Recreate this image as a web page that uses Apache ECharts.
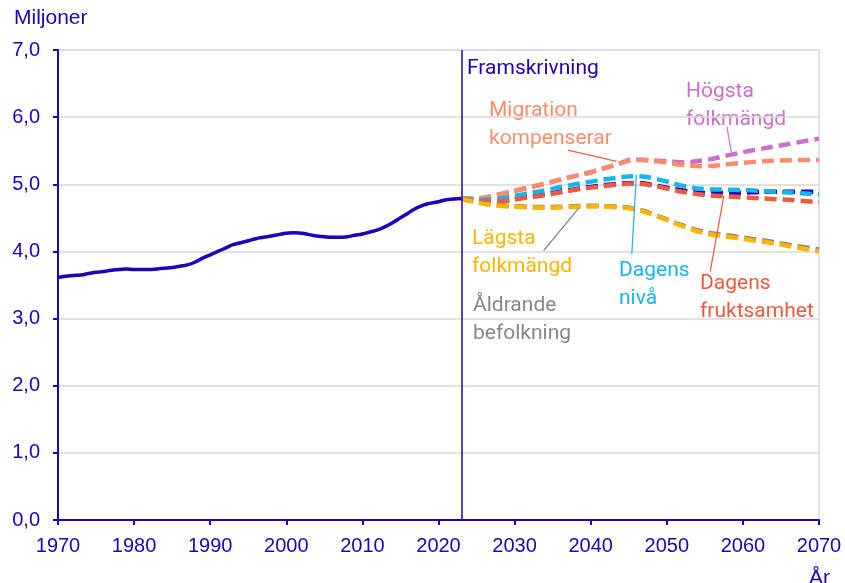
<!DOCTYPE html>
<html>
<head>
<meta charset="utf-8">
<script src="https://cdn.jsdelivr.net/npm/echarts@6/dist/echarts.min.js"></script>
<style>
  html, body { margin: 0; padding: 0; background: #fff; }
  #chart { width: 845px; height: 583px; }
</style>
</head>
<body>
<div id="chart"></div>
<script>
// historical population, 1970-2023
var histYears = [];
for (var y = 1970; y <= 2023; y++) histYears.push(y);
var histValues = [
  3.61, 3.63, 3.64, 3.65, 3.67, 3.69, 3.70, 3.72, 3.73, 3.74,
  3.73, 3.73, 3.73, 3.74, 3.75, 3.76, 3.78, 3.80, 3.84, 3.90,
  3.95, 4.00, 4.05, 4.10, 4.13, 4.16, 4.19, 4.21, 4.23, 4.25,
  4.27, 4.28, 4.27, 4.25, 4.23, 4.22, 4.21, 4.21, 4.22, 4.24,
  4.26, 4.29, 4.32, 4.37, 4.43, 4.50, 4.57, 4.64, 4.69, 4.72,
  4.74, 4.77, 4.78, 4.79
];

// projections
var projYears = [2023, 2025, 2028, 2031, 2034, 2037, 2040, 2043, 2046, 2049, 2052, 2055, 2058, 2061, 2064, 2067, 2070];
var huvud       = [4.79, 4.76, 4.76, 4.80, 4.85, 4.91, 4.96, 5.00, 5.02, 4.97, 4.91, 4.87, 4.87, 4.88, 4.89, 4.89, 4.89];
var hogsta      = [4.79, 4.79, 4.85, 4.93, 5.01, 5.10, 5.18, 5.28, 5.37, 5.35, 5.33, 5.36, 5.43, 5.50, 5.56, 5.62, 5.68];
var migration   = [4.79, 4.79, 4.85, 4.93, 5.01, 5.10, 5.18, 5.28, 5.36, 5.34, 5.29, 5.27, 5.30, 5.33, 5.35, 5.36, 5.36];
var dagensNiva  = [4.79, 4.77, 4.79, 4.85, 4.91, 4.98, 5.04, 5.09, 5.12, 5.07, 4.98, 4.93, 4.92, 4.91, 4.89, 4.87, 4.85];
var fruktsamhet = [4.79, 4.75, 4.75, 4.79, 4.84, 4.90, 4.95, 4.99, 5.01, 4.96, 4.89, 4.84, 4.82, 4.80, 4.78, 4.76, 4.73];
var aldrande    = [4.79, 4.74, 4.69, 4.67, 4.66, 4.67, 4.68, 4.67, 4.63, 4.52, 4.39, 4.29, 4.24, 4.19, 4.14, 4.08, 4.03];
var lagsta      = [4.79, 4.73, 4.68, 4.66, 4.65, 4.66, 4.67, 4.66, 4.62, 4.51, 4.38, 4.27, 4.22, 4.17, 4.12, 4.06, 4.00];

var yTicks = [0, 1, 2, 3, 4, 5, 6, 7];

var BLUE = '#1E00BE';
var CYAN = '#19b4ee';
var SALMON = '#ff8c69';
var RED = '#ef5a3c';
var PURPLE = '#cc6fcc';
var ORANGE = '#ffb400';
var GREY = '#878787';

function pairs(xs, vs) {
  return xs.map(function (x, i) { return [x, vs[i]]; });
}

// leader line from label to curve, in data coordinates
function leader(color, from, to) {
  return {
    silent: true,
    symbol: 'none',
    label: { show: false },
    lineStyle: { color: color, width: 1.2, type: 'solid' },
    data: [[{ coord: from }, { coord: to }]]
  };
}

function dashed(name, values, color, ml) {
  var s = {
    name: name,
    type: 'line',
    smooth: true,
    showSymbol: false,
    data: pairs(projYears, values),
    lineStyle: { color: color, width: 4.5, type: [12, 6], cap: 'butt' }
  };
  if (ml) s.markLine = ml;
  return s;
}

var myChart = echarts.init(document.getElementById('chart'));

var labelFont = '21px Roboto, sans-serif';

function note(x, top, text, color) {
  return {
    type: 'text',
    left: x,
    top: top,
    style: { text: text, fill: color, font: labelFont, lineHeight: 28 }
  };
}

var option = {
  animation: false,
  grid: {
    left: 58, right: 26, top: 50, bottom: 63,
    show: true, borderColor: '#d8d8f2', borderWidth: 1.5
  },
  xAxis: {
    type: 'value',
    min: 1970, max: 2070, interval: 10,
    axisLine: { lineStyle: { color: BLUE, width: 2 } },
    axisTick: { show: true, length: 5, lineStyle: { color: BLUE, width: 2 } },
    axisLabel: {
      color: BLUE, fontSize: 20, fontFamily: 'Liberation Sans, Arial', margin: 16,
      formatter: function (v) { return String(v); }
    },
    splitLine: { show: false }
  },
  yAxis: {
    type: 'value',
    min: yTicks[0], max: yTicks[yTicks.length - 1], interval: 1,
    axisLine: { show: true, lineStyle: { color: BLUE, width: 2 } },
    axisTick: { show: true, length: 5, lineStyle: { color: BLUE, width: 2 } },
    axisLabel: {
      color: BLUE, fontSize: 20, fontFamily: 'Liberation Sans, Arial', margin: 18,
      formatter: function (v) { return v.toFixed(1).replace('.', ','); }
    },
    splitLine: {
      lineStyle: {
        width: 1.5,
        color: ['#d9d9d9', '#d9d9d9', '#d9d9d9', '#d9d9d9', '#d9d9d9', '#d9d9d9', '#d9d9d9', '#d8d8f2']
      }
    }
  },
  graphic: [
    { type: 'text', left: 14, top: 8, style: { text: 'Miljoner', fill: BLUE, font: '21px Liberation Sans, Arial' } },
    { type: 'text', left: 809, top: 568, style: { text: 'År', fill: BLUE, font: '21px Liberation Sans, Arial' } },
    note(467, 55, 'Framskrivning', BLUE),
    note(489, 97, 'Migration\nkompenserar', SALMON),
    note(686, 78, 'Högsta\nfolkmängd', PURPLE),
    note(472, 225, 'Lägsta\nfolkmängd', ORANGE),
    note(473, 292, 'Åldrande\nbefolkning', GREY),
    note(619, 257, 'Dagens\nnivå', CYAN),
    note(700, 270, 'Dagens\nfruktsamhet', RED)
  ],
  series: [
    {
      name: 'Historik',
      type: 'line',
      smooth: true,
      showSymbol: false,
      data: pairs(histYears, histValues),
      lineStyle: { color: BLUE, width: 3.5 },
      z: 5,
      markLine: {
        silent: true,
        symbol: 'none',
        label: { show: false },
        lineStyle: { color: BLUE, width: 1.5, type: 'solid' },
        data: [{ xAxis: 2023 }]
      }
    },
    dashed('Huvudalternativ', huvud, BLUE),
    dashed('Högsta folkmängd', hogsta, PURPLE, leader(PURPLE, [2057.9, 5.86], [2058.5, 5.47])),
    dashed('Migration kompenserar', migration, SALMON, leader('#f06040', [2037.0, 5.51], [2043.4, 5.34])),
    dashed('Dagens nivå', dagensNiva, CYAN, leader(CYAN, [2045.4, 3.96], [2046.0, 5.14])),
    dashed('Dagens fruktsamhet', fruktsamhet, RED, leader(RED, [2055.7, 3.70], [2057.5, 4.83])),
    dashed('Åldrande befolkning', aldrande, GREY, leader(GREY, [2033.8, 4.01], [2038.4, 4.64])),
    dashed('Lägsta folkmängd', lagsta, ORANGE)
  ]
};

myChart.setOption(option);
</script>
</body>
</html>
